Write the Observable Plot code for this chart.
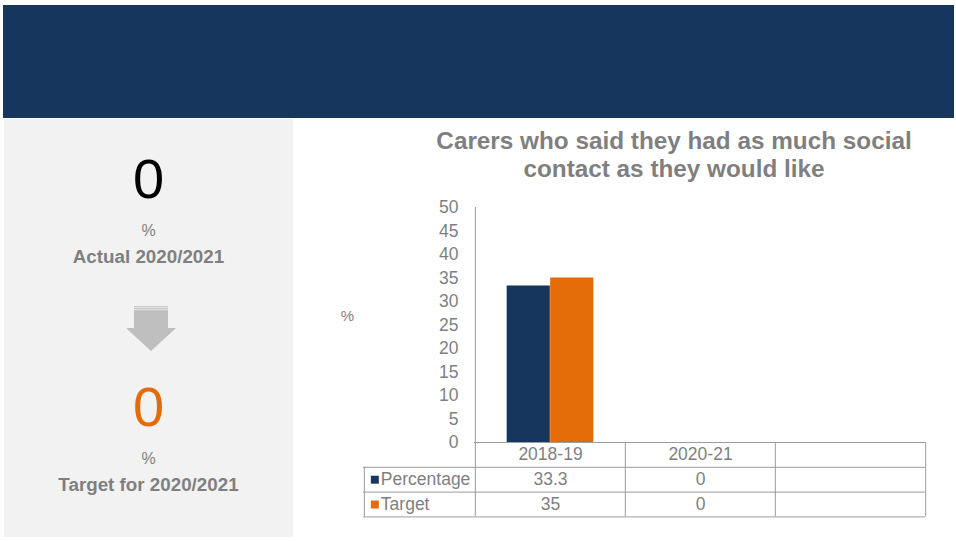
<!DOCTYPE html>
<html>
<head>
<meta charset="utf-8">
<script src="https://cdn.jsdelivr.net/npm/d3@7"></script>
<script src="https://cdn.jsdelivr.net/npm/@observablehq/plot@0.6"></script>
<style>
  body { margin:0; width:956px; height:541px; position:relative; background:#ffffff; overflow:hidden;
         font-family:"Liberation Sans", Arial, sans-serif; }
  .abs { position:absolute; }
  #header { left:3px; top:5px; width:951px; height:113px; background:#17365D; }
  #panel { left:4px; top:119px; width:289px; height:418px; background:#F2F2F2; }
  .c { left:4px; width:289px; text-align:center; white-space:nowrap; line-height:1; }
  .big { font-size:56px; }
  .pct { font-size:16px; color:#7F7F7F; }
  .lab { font-size:18.8px; font-weight:bold; color:#7F7F7F; }
  #title { left:374px; top:127px; width:600px; text-align:center; font-size:24.3px; line-height:28px;
           font-weight:bold; color:#7F7F7F; white-space:nowrap; }
  #chart { left:300px; top:190px; }
</style>
</head>
<body>
<div id="header" class="abs"></div>
<div id="panel" class="abs"></div>
<div id="actualVal" class="abs c big" style="top:151px;color:#000000"></div>
<div class="abs c pct" style="top:223px">%</div>
<div id="actualLab" class="abs c lab" style="top:248px"></div>
<svg class="abs" style="left:0;top:0" width="300" height="541">
  <polygon points="134,310 168,310 168,328 176,328 151,351 126,328 134,328" fill="#BFBFBF"/>
  <rect x="134" y="306" width="34" height="1" fill="#CACACA"/>
  <rect x="134" y="307" width="34" height="1" fill="#E6E6E6"/>
  <rect x="134" y="308" width="34" height="1.3" fill="#C6C6C6"/>
  <rect x="134" y="309.3" width="34" height="1" fill="#E0E0E0"/>
</svg>
<div id="targetVal" class="abs c big" style="top:379px;color:#E36C09"></div>
<div class="abs c pct" style="top:451px">%</div>
<div id="targetLab" class="abs c lab" style="top:476px"></div>
<div id="title" class="abs">Carers who said they had as much social<br>contact as they would like</div>
<div id="chart" class="abs"></div>
<script>
// ---- data ----
const categories = ["2018-19", "2020-21", " "];
const seriesNames = ["Percentage", "Target"];
const percentageValues = [33.3, 0];
const targetValues = [35, 0];
const seriesColors = ["#17365D", "#E36C09"];
const yTicks = [0, 5, 10, 15, 20, 25, 30, 35, 40, 45, 50];
const actualValue = 0;
const targetValue = 0;
const actualLabel = "Actual 2020/2021";
const targetLabel = "Target for 2020/2021";

document.getElementById("actualVal").textContent = actualValue;
document.getElementById("targetVal").textContent = targetValue;
document.getElementById("actualLab").textContent = actualLabel;
document.getElementById("targetLab").textContent = targetLabel;

// ---- layout ----
const W = 656, H = 340, ML = 174, MR = 31, MT = 17, MB = 88;
const bw = (W - ML - MR) / categories.length;
const barW = 43.5;
const outer = (bw - 2 * barW) / 2;
const rowH = 24.8;
const legendW = 111;
const fs = 17.5;
const textGray = "#7F7F7F";
const lineGray = "#9C9C9C";

const seriesValues = [percentageValues, targetValues];
const bars = [];
seriesNames.forEach((s, si) => seriesValues[si].forEach((v, i) => bars.push({cat: categories[i], series: s, value: v})));

const marks = [
  Plot.barY(bars.filter(d => d.series === seriesNames[0]), {x: "cat", y: "value", fill: "series", insetLeft: outer, insetRight: outer + barW}),
  Plot.barY(bars.filter(d => d.series === seriesNames[1]), {x: "cat", y: "value", fill: "series", insetLeft: outer + barW, insetRight: outer}),
  Plot.axisY({ticks: yTicks, tickSize: 0, tickPadding: 16, fontSize: fs, label: null}),
  Plot.axisX({tickSize: 0, tickPadding: 5, fontSize: fs, label: null}),
  // table top line (x axis) and row lines
  Plot.ruleY([0], {stroke: lineGray}),
  ...[1, 2, 3].map(k => Plot.ruleY([0], {stroke: lineGray, dy: rowH * k, insetLeft: -legendW})),
  // column lines
  Plot.ruleX(categories, {x: d => d, dx: -bw / 2, y1: d => d === categories[0] ? 50 : 0, y2: 0, insetBottom: -3 * rowH, stroke: lineGray}),
  Plot.ruleX([categories[categories.length - 1]], {x: d => d, dx: bw / 2, y1: 0, y2: 0, insetBottom: -3 * rowH, stroke: lineGray}),
  Plot.ruleX([categories[0]], {x: d => d, dx: -bw / 2 - legendW, y1: 0, y2: 0, insetTop: rowH, insetBottom: -3 * rowH, stroke: lineGray}),
  // "%" axis label
  Plot.text(["%"], {frameAnchor: "left", textAnchor: "middle", lineAnchor: "middle", dx: -127, dy: -8.5, text: d => d, fontSize: 15})
];

seriesNames.forEach((s, si) => {
  const rowData = seriesValues[si].map((v, i) => ({cat: categories[i], text: String(v)}));
  marks.push(Plot.text(rowData, {x: "cat", frameAnchor: "bottom", lineAnchor: "middle", dy: rowH * (1.5 + si), text: "text", fontSize: fs}));
  marks.push(Plot.dot([s], {x: () => categories[0], frameAnchor: "bottom", dx: -bw / 2 - legendW + 10.5, dy: rowH * (1.5 + si),
    symbol: "square", r: 4.5, fill: d => d, stroke: "none"}));
  marks.push(Plot.text([s], {x: () => categories[0], frameAnchor: "bottom", lineAnchor: "middle", dx: -bw / 2 - legendW + 16.5, dy: rowH * (1.5 + si),
    textAnchor: "start", text: d => d, fontSize: fs}));
});

const chart = Plot.plot({
  width: W, height: H,
  marginLeft: ML, marginRight: MR, marginTop: MT, marginBottom: MB,
  style: {fontFamily: "'Liberation Sans', Arial, sans-serif", background: "transparent", color: textGray, overflow: "visible"},
  x: {domain: categories, paddingInner: 0, paddingOuter: 0},
  y: {domain: [0, 50]},
  color: {domain: seriesNames, range: seriesColors},
  marks
});
document.getElementById("chart").appendChild(chart);
</script>
</body>
</html>
